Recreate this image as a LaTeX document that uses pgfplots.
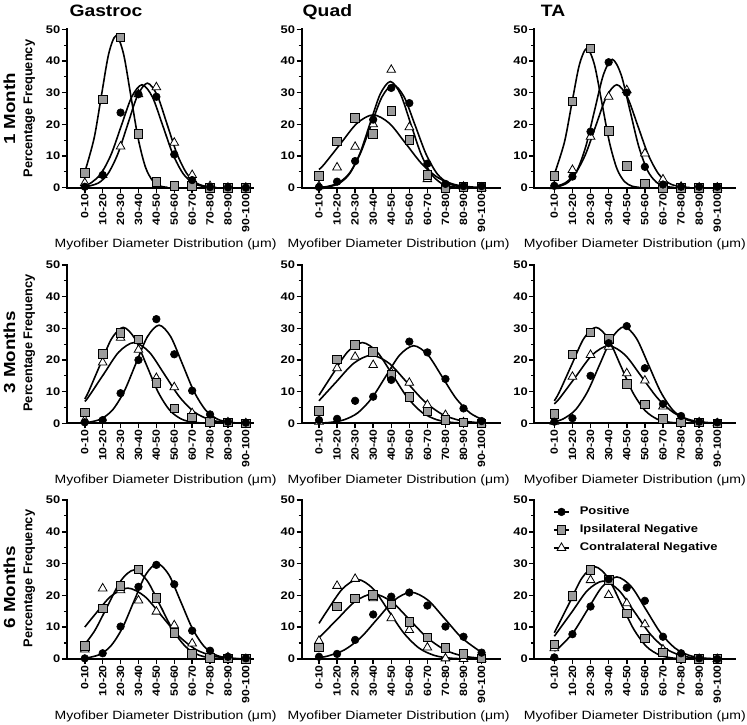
\documentclass[border=0pt]{standalone}
\usepackage{fontspec}
\setmainfont{Liberation Sans}
\newfontfamily\wide{Liberation Sans}[FakeStretch=1.17]
\usepackage{pgfplots}
\pgfplotsset{compat=1.18}
\definecolor{mgray}{RGB}{155,155,155}
\pgfplotsset{
  panel/.style={
    scale only axis,
    ymin=0, ymax=50, clip=false,
    axis x line=bottom, axis y line=left,
    axis line style={-, line width=2pt, line cap=rect},
    xtick={0,...,9},
    xticklabels={0-10,10-20,20-30,30-40,40-50,50-60,60-70,70-80,80-90,90-100},
    ytick={0,10,20,30,40,50},
    yticklabels={0,10,20,30,40,50},
    minor ytick={5,15,25,35,45},
    tick align=outside,
    major tick length=5pt, minor tick length=3pt,
    tick style={black, line width=1.5pt},
    minor tick style={black, line width=1.2pt},
    xticklabel style={rotate=90, anchor=east, inner sep=1pt, font=\wide\bfseries\fontsize{10.5}{12}\selectfont},
    yticklabel style={inner sep=1.5pt, font=\wide\bfseries\fontsize{11}{12}\selectfont},
    xlabel={Myofiber Diameter Distribution (μm)},
    xlabel style={at={(axis description cs:0.5,0)}, anchor=base, yshift=-60.3pt, inner sep=0pt, font=\wide\fontsize{12}{14}\selectfont},
  },
  curve/.style={black, line width=1.6pt, smooth, no markers},
  pos/.style={only marks, mark=*, mark size=3.8pt, mark options={draw=black, fill=black, line width=0.6pt}},
  ips/.style={only marks, mark=square*, mark size=4.3pt, mark options={draw=black, fill=mgray, line width=0.8pt}},
  con/.style={only marks, mark=triangle*, mark size=5pt, mark options={draw=black, fill=white, line width=0.8pt}},
  col1/.style={at={(66.9pt,#1)}, anchor=south west, xmin=-1, xmax=9.4, width=186.1pt, xlabel style={xshift=5.6pt}},
  col2/.style={at={(301.65pt,#1)}, anchor=south west, xmin=-0.96, xmax=10, width=198pt, xlabel style={xshift=-2pt}},
  col3/.style={at={(534.4pt,#1)}, anchor=south west, xmin=-1.1, xmax=10, width=201pt},
}
\begin{document}
\begin{tikzpicture}
\path[use as bounding box] (0pt,0pt) rectangle (747pt,725pt);

% ===== Row 1: 1 Month =====
\begin{axis}[panel, col1=537.3pt, height=158.4pt]
\addplot[curve] coordinates {(0,4.92) (0.52,15.59) (0.93,29.11) (1.34,42.36) (1.75,48) (2.16,42.36) (2.57,29.11) (2.98,15.59) (3.39,6.49) (3.80,2.11) (4.21,0.53) (4.62,0.11)};
\addplot[curve] coordinates {(0,0.68) (0.325,1.43) (0.9,4.40) (1.475,10.55) (2.05,19.71) (2.625,28.68) (3.2,32.5) (3.775,28.68) (4.35,19.71) (4.925,10.55) (5.5,4.40) (6.075,1.43) (6.65,0.36) (7.225,0.07)};
\addplot[curve] coordinates {(0,0.21) (0.75,1.45) (1.3,4.46) (1.85,10.72) (2.4,20.01) (2.95,29.12) (3.5,33) (4.05,29.12) (4.6,20.01) (5.15,10.72) (5.7,4.46) (6.25,1.45) (6.8,0.37) (7.35,0.07)};
\addplot[con] coordinates {(0,1.5) (1,4) (2,13) (3,29.5) (4,31.7) (5,14.2) (6,4) (7,0.5) (8,0) (9,0)};
\addplot[ips] coordinates {(0,4.7) (1,27.9) (2,47.5) (3,16.9) (4,1.9) (5,0.5) (6,0.5) (7,0) (8,0) (9,0)};
\addplot[pos] coordinates {(0,0.3) (1,4.0) (2,23.7) (3,29.5) (4,28.7) (5,10.5) (6,2.4) (7,0.2) (8,0.1) (9,0)};
\end{axis}

\begin{axis}[panel, col2=537.3pt, height=158.4pt]
\addplot[curve] coordinates {(0,5.74) (0.3,7.47) (1.2,13.95) (2.1,20.30) (3.0,23) (3.9,20.30) (4.8,13.95) (5.7,7.47) (6.6,3.11) (7.5,1.01) (8.4,0.26) (9,0.08)};
\addplot[curve] coordinates {(0,0.11) (0.44,0.36) (1.05,1.43) (1.66,4.40) (2.27,10.55) (2.88,19.71) (3.49,28.68) (4.1,32.5) (4.71,28.68) (5.32,19.71) (5.93,10.55) (6.54,4.40) (7.15,1.43) (7.76,0.36) (8.37,0.07)};
\addplot[curve] coordinates {(0,0.07) (0.59,0.37) (1.15,1.47) (1.71,4.53) (2.27,10.88) (2.83,20.32) (3.39,29.56) (3.95,33.5) (4.51,29.56) (5.07,20.32) (5.63,10.88) (6.19,4.53) (6.75,1.47) (7.31,0.37) (7.87,0.07)};
\addplot[con] coordinates {(0,0.5) (1,6.4) (2,12.9) (3,20) (4,37.2) (5,19.1) (6,2.7) (7,0.3) (8,0.3) (9,0)};
\addplot[ips] coordinates {(0,3.7) (1,14.6) (2,22) (3,17) (4,24.2) (5,15) (6,4) (7,0) (8,0.3) (9,0.3)};
\addplot[pos] coordinates {(0,0.2) (1,1.9) (2,8.4) (3,21.5) (4,31.5) (5,26.7) (6,7.6) (7,1.2) (8,0.5) (9,0.5)};
\end{axis}

\begin{axis}[panel, col3=537.3pt, height=158.4pt]
\addplot[curve] coordinates {(0,4.19) (0.555,14.29) (0.97,26.69) (1.385,38.83) (1.8,44) (2.215,38.83) (2.63,26.69) (3.045,14.29) (3.46,5.95) (3.875,1.93) (4.29,0.49) (4.705,0.10)};
\addplot[curve] coordinates {(0,0.18) (0.29,0.45) (0.775,1.78) (1.26,5.48) (1.745,13.15) (2.23,24.56) (2.715,35.74) (3.2,40.5) (3.685,35.74) (4.17,24.56) (4.655,13.15) (5.14,5.48) (5.625,1.78) (6.11,0.45) (6.595,0.09)};
\addplot[curve] coordinates {(0,0.36) (0.575,1.43) (1.15,4.40) (1.725,10.55) (2.3,19.71) (2.875,28.68) (3.45,32.5) (4.025,28.68) (4.6,19.71) (5.175,10.55) (5.75,4.40) (6.325,1.43) (6.9,0.36) (7.475,0.07)};
\addplot[con] coordinates {(0,0.5) (1,5.6) (2,16.1) (3,28.7) (4,30.8) (5,10.8) (6,2.6) (7,0.3) (8,0) (9,0)};
\addplot[ips] coordinates {(0,3.8) (1,27.2) (2,44) (3,17.9) (4,6.9) (5,1.4) (6,0) (7,0) (8,0) (9,0)};
\addplot[pos] coordinates {(0,0.6) (1,3.5) (2,17.7) (3,39.6) (4,30) (5,6.6) (6,1) (7,0.3) (8,0.3) (9,0.3)};
\end{axis}

% ===== Row 2: 3 Months =====
\begin{axis}[panel, col1=301.7pt, height=158.3pt]
\addplot[curve] coordinates {(0,7.71) (0.2,9.84) (0.85,18.38) (1.5,26.74) (2.15,30.3) (2.8,26.74) (3.45,18.38) (4.1,9.84) (4.75,4.10) (5.4,1.33) (6.05,0.34) (6.7,0.07)};
\addplot[curve] coordinates {(0,6.9) (0.2,8.28) (1.05,15.47) (1.9,22.50) (2.75,25.5) (3.6,22.50) (4.45,15.47) (5.3,8.28) (6.15,3.45) (7.0,1.12) (7.85,0.28) (8.7,0.06)};
\addplot[curve] coordinates {(0,0.19) (0.25,0.34) (0.9,1.36) (1.55,4.19) (2.2,10.07) (2.85,18.80) (3.5,27.36) (4.15,31) (4.8,27.36) (5.45,18.80) (6.1,10.07) (6.75,4.19) (7.4,1.36) (8.05,0.34) (8.7,0.07)};
\addplot[con] coordinates {(0,1) (1,19.2) (2,27) (3,23.2) (4,14.3) (5,11.4) (6,3.2) (7,0.5) (8,0.3) (9,0)};
\addplot[ips] coordinates {(0,3.5) (1,21.9) (2,28.6) (3,26.5) (4,12.8) (5,4.7) (6,1.8) (7,0.5) (8,0.3) (9,0)};
\addplot[pos] coordinates {(0,0.3) (1,1) (2,9.5) (3,20) (4,32.9) (5,21.8) (6,10.3) (7,2.8) (8,0.5) (9,0.2)};
\end{axis}

\begin{axis}[panel, col2=301.7pt, height=158.3pt]
\addplot[curve] coordinates {(0,8.85) (0.75,15.47) (1.575,22.50) (2.4,25.5) (3.225,22.50) (4.05,15.47) (4.875,8.28) (5.7,3.45) (6.525,1.12) (7.35,0.28) (8.175,0.06)};
\addplot[curve] coordinates {(0,7.11) (0.95,13.04) (1.925,18.97) (2.9,21.5) (3.875,18.97) (4.85,13.04) (5.825,6.98) (6.8,2.91) (7.775,0.94) (8.75,0.24)};
\addplot[curve] coordinates {(0,0.08) (0.6,0.27) (1.375,1.08) (2.15,3.31) (2.925,7.96) (3.7,14.86) (4.475,21.62) (5.25,24.5) (6.025,21.62) (6.8,14.86) (7.575,7.96) (8.35,3.31) (9,1.31)};
\addplot[con] coordinates {(0,0.5) (1,17.4) (2,21) (3,18.4) (4,16) (5,12.8) (6,5.8) (7,2.6) (8,0.3) (9,0)};
\addplot[ips] coordinates {(0,3.9) (1,20.2) (2,24.7) (3,22.6) (4,15.3) (5,8.4) (6,3.7) (7,1) (8,0.3) (9,0)};
\addplot[pos] coordinates {(0,1) (1,1.4) (2,7.1) (3,8.4) (4,13.7) (5,25.8) (6,22.4) (7,14) (8,4.7) (9,0.7)};
\end{axis}

\begin{axis}[panel, col3=301.7pt, height=158.3pt]
\addplot[curve] coordinates {(0,7.10) (0.275,9.84) (0.95,18.38) (1.625,26.74) (2.3,30.3) (2.975,26.74) (3.65,18.38) (4.325,9.84) (5.0,4.10) (5.675,1.33) (6.35,0.34) (7.025,0.07)};
\addplot[curve] coordinates {(0,6.11) (0.3,7.96) (1.2,14.86) (2.1,21.62) (3.0,24.5) (3.9,21.62) (4.8,14.86) (5.7,7.96) (6.6,3.31) (7.5,1.08) (8.4,0.27) (9,0.1)};
\addplot[curve] coordinates {(0,0.52) (0.475,1.34) (1.15,4.13) (1.825,9.90) (2.5,18.50) (3.175,26.92) (3.85,30.5) (4.525,26.92) (5.2,18.50) (5.875,9.90) (6.55,4.13) (7.225,1.34) (7.9,0.34) (8.575,0.07)};
\addplot[con] coordinates {(0,0.5) (1,14.7) (2,21.6) (3,24.2) (4,15.8) (5,13.5) (6,5.3) (7,1) (8,0.3) (9,0)};
\addplot[ips] coordinates {(0,2.9) (1,21.8) (2,28.7) (3,26.6) (4,12.4) (5,6) (6,1.4) (7,0.3) (8,0.3) (9,0)};
\addplot[pos] coordinates {(0,0.5) (1,1.6) (2,15) (3,25.3) (4,30.7) (5,17.4) (6,6.1) (7,2.3) (8,0.5) (9,0.3)};
\end{axis}

% ===== Row 3: 6 Months =====
\begin{axis}[panel, col1=66pt, height=159pt]
\addplot[curve] coordinates {(0,4.63) (0.575,9.09) (1.3,16.98) (2.025,24.71) (2.75,28) (3.475,24.71) (4.2,16.98) (4.925,9.09) (5.65,3.79) (6.375,1.23) (7.1,0.31) (7.825,0.06)};
\addplot[curve] coordinates {(0,10.04) (0.5,13.52) (1.45,19.68) (2.4,22.3) (3.35,19.68) (4.3,13.52) (5.25,7.24) (6.2,3.02) (7.15,0.98) (8.1,0.25) (9,0.05)};
\addplot[curve] coordinates {(0,0.23) (0.8,1.32) (1.45,4.06) (2.1,9.74) (2.75,18.20) (3.4,26.48) (4.05,30) (4.7,26.48) (5.35,18.20) (6.0,9.74) (6.65,4.06) (7.3,1.32) (7.95,0.33) (8.6,0.07)};
\addplot[con] coordinates {(0,3) (1,22.2) (2,21.6) (3,18.4) (4,14.9) (5,10.6) (6,4.9) (7,1.3) (8,0.5) (9,0)};
\addplot[ips] coordinates {(0,4.1) (1,15.9) (2,23) (3,28.2) (4,19.2) (5,8.3) (6,1.6) (7,0.4) (8,0.2) (9,0)};
\addplot[pos] coordinates {(0,0.2) (1,1.8) (2,10.2) (3,22.7) (4,29.6) (5,23.5) (6,8.9) (7,2.6) (8,0.7) (9,0.2)};
\end{axis}

\begin{axis}[panel, col2=66pt, height=159pt]
\addplot[curve] coordinates {(0,11.2) (0.45,15.16) (1.3,22.06) (2.15,25) (3.0,22.06) (3.85,15.16) (4.7,8.12) (5.55,3.38) (6.4,1.10) (7.25,0.28) (8.1,0.06)};
\addplot[curve] coordinates {(0,6.66) (1,12.43) (2,18.09) (3,20.5) (4,18.09) (5,12.43) (6,6.66) (7,2.77) (8,0.90) (9,0.23)};
\addplot[curve] coordinates {(0,0.47) (0.475,0.92) (1.4,2.84) (2.325,6.82) (3.25,12.74) (4.175,18.53) (5.1,21) (6.025,18.53) (6.95,12.74) (7.875,6.82) (8.8,2.84) (9,2.28)};
\addplot[con] coordinates {(0,5.7) (1,23) (2,25.2) (3,19.1) (4,12.8) (5,9.1) (6,3.6) (7,0.2) (8,0) (9,0)};
\addplot[ips] coordinates {(0,3.6) (1,16.5) (2,19.1) (3,20.1) (4,17.2) (5,11.7) (6,6.8) (7,3.4) (8,1.6) (9,0.2)};
\addplot[pos] coordinates {(0,0.7) (1,1.6) (2,6) (3,14) (4,19.6) (5,20.9) (6,16.8) (7,10.2) (8,7) (9,2)};
\end{axis}

\begin{axis}[panel, col3=66pt, height=159pt,
  legend image code/.code={\draw[mark repeat=2,mark phase=2,#1] plot coordinates {(0pt,0pt) (7.5pt,0pt) (15pt,0pt)};},
  legend style={draw=none, fill=none, inner sep=0pt, row sep=7pt, column sep=10pt,
    at={(axis description cs:0.0925,0.961)}, anchor=north west,
    nodes={inner sep=0pt, text height=8.5pt, text depth=2.5pt, font=\wide\bfseries\fontsize{11.1}{14}\selectfont}},
  legend cell align=left]
\addlegendimage{black, line width=1.6pt, mark=*, mark size=3.8pt, mark options={solid, draw=black, fill=black, line width=0.6pt}}
\addlegendentry{Positive}
\addlegendimage{black, line width=1.6pt, mark=square*, mark size=4.3pt, mark options={solid, draw=black, fill=mgray, line width=0.8pt}}
\addlegendentry{Ipsilateral Negative}
\addlegendimage{black, line width=1.6pt, mark=triangle*, mark size=5pt, mark options={solid, draw=black, fill=white, line width=0.8pt}}
\addlegendentry{Contralateral Negative}
\addplot[curve, forget plot] coordinates {(0,8.26) (0.83,17.59) (1.54,25.59) (2.25,29) (2.96,25.59) (3.67,17.59) (4.38,9.42) (5.09,3.92) (5.8,1.27) (6.51,0.32) (7.22,0.06)};
\addplot[curve, forget plot] coordinates {(0,7.15) (0.98,14.86) (1.84,21.62) (2.7,24.5) (3.56,21.62) (4.42,14.86) (5.28,7.96) (6.14,3.31) (7.0,1.08) (7.86,0.27) (8.72,0.05)};
\addplot[curve, forget plot] coordinates {(0,2.52) (0.25,3.49) (1.05,8.38) (1.85,15.65) (2.65,22.77) (3.45,25.8) (4.25,22.77) (5.05,15.65) (5.85,8.38) (6.65,3.49) (7.45,1.13) (8.25,0.29) (9,0.06)};
\addplot[con, forget plot] coordinates {(0,3.4) (1,19.1) (2,24.8) (3,20.1) (4,17.5) (5,10.9) (6,3) (7,0.7) (8,0) (9,0)};
\addplot[ips, forget plot] coordinates {(0,4.6) (1,19.8) (2,28) (3,24.8) (4,14.4) (5,6.5) (6,2.1) (7,0.2) (8,0) (9,0)};
\addplot[pos, forget plot] coordinates {(0,0.5) (1,7.8) (2,16.5) (3,25.1) (4,22.4) (5,18.3) (6,7) (7,1.8) (8,0.2) (9,0)};
\end{axis}

% ===== Labels =====
\node[anchor=base west, inner sep=0pt, font=\wide\bfseries\fontsize{16.5}{18}\selectfont] at (69.3pt,708.3pt) {Gastroc};
\node[anchor=base west, inner sep=0pt, font=\wide\bfseries\fontsize{16.5}{18}\selectfont] at (302.5pt,708.3pt) {Quad};
\node[anchor=base west, inner sep=0pt, font=\wide\bfseries\fontsize{16.5}{18}\selectfont] at (540.7pt,708.3pt) {TA};

\node[rotate=90, anchor=base, inner sep=0pt, font=\wide\bfseries\fontsize{16}{18}\selectfont] at (15pt,616pt) {1 Month};
\node[rotate=90, anchor=base, inner sep=0pt, font=\wide\bfseries\fontsize{16}{18}\selectfont] at (15pt,372.5pt) {3 Months};
\node[rotate=90, anchor=base, inner sep=0pt, font=\wide\bfseries\fontsize{16}{18}\selectfont] at (15pt,137.5pt) {6 Months};

\node[rotate=90, anchor=base, inner sep=0pt, font=\bfseries\fontsize{12.8}{14}\selectfont] at (32.3pt,616.5pt) {Percentage Frequency};
\node[rotate=90, anchor=base, inner sep=0pt, font=\bfseries\fontsize{12.8}{14}\selectfont] at (32.3pt,382pt) {Percentage Frequency};
\node[rotate=90, anchor=base, inner sep=0pt, font=\bfseries\fontsize{12.8}{14}\selectfont] at (32.3pt,146.5pt) {Percentage Frequency};
\end{tikzpicture}
\end{document}
